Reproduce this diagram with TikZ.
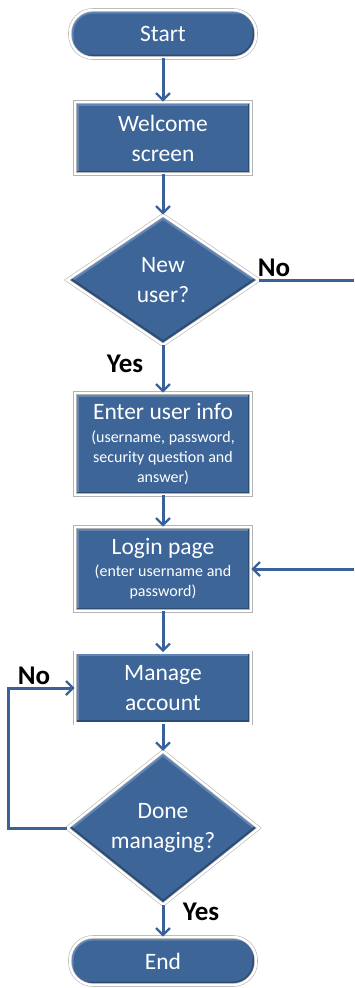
\documentclass[tikz,border=0pt]{standalone}
\usepackage{fontspec}
\setmainfont{Carlito}
\usetikzlibrary{shapes.geometric,arrows.meta}
\definecolor{boxblue}{RGB}{61,101,152}
\definecolor{bevellight}{RGB}{96,133,182}
\definecolor{beveldark}{RGB}{44,76,118}
\definecolor{linkblue}{RGB}{58,98,152}
\definecolor{rimgray}{RGB}{180,180,180}
\newcommand{\notefont}{\fontsize{16}{20}\selectfont}

\begin{document}
\begin{tikzpicture}[x=1pt,y=-1pt,
  base/.style={fill=boxblue, draw=rimgray, double=white, double distance=2.4pt,
    line width=0.6pt, text=white, align=center, inner sep=0pt,
    font=\fontsize{23.5}{30}\selectfont},
  % bevel along the edges of a box
  boxbevel/.style={path picture={
    \draw[bevellight, line width=7pt]
      (path picture bounding box.south west) -- (path picture bounding box.north west)
      -- (path picture bounding box.north east);
    \draw[beveldark, line width=7pt]
      (path picture bounding box.north east) -- (path picture bounding box.south east)
      -- (path picture bounding box.south west);
    \draw[boxblue!90!white, line width=3pt]
      (path picture bounding box.north west) -- (path picture bounding box.north east);
  }},
  % bevel along the edges of a diamond
  diamondbevel/.style={path picture={
    \draw[bevellight, line width=8pt]
      (path picture bounding box.west) -- (path picture bounding box.north)
      -- (path picture bounding box.east);
    \draw[beveldark, line width=8pt]
      (path picture bounding box.east) -- (path picture bounding box.south)
      -- (path picture bounding box.west);
  }},
  terminal/.style={base, boxbevel, rectangle, rounded corners=23pt, minimum width=186pt, minimum height=48pt},
  process/.style={base, boxbevel, rectangle, minimum width=176pt},
  decision/.style={base, diamondbevel, diamond, minimum width=192pt, minimum height=130pt},
  flow/.style={draw=linkblue, line width=3pt},
  arrowflow/.style={flow, -{Straight Barb[length=7pt,width=14pt,line width=2.4pt]}},
  answer/.style={font=\bfseries\fontsize{27}{27}\selectfont, text=black}
]
\useasboundingbox (0,0) rectangle (354,988);

% flowchart blocks
\node[terminal] (start) at (163,34) {Start};
\node[process, minimum height=72pt] (welcome) at (163,138) {Welcome\\screen};
\node[decision] (newuser) at (163,280) {New\\user?};
\node[process, minimum height=102pt, font=\fontsize{23.5}{20}\selectfont] (enter) at (163,444)
  {Enter user info\\[3pt]\notefont(username, password,\\\notefont security question and\\\notefont answer)};
\node[process, minimum height=84pt, font=\fontsize{23.5}{20}\selectfont] (login) at (163,569)
  {Login page\\[2pt]\notefont(enter username and\\\notefont password)};
\node[process, minimum height=71pt] (manage) at (163,688) {Manage\\account};
\node[decision] (done) at (163,828) {Done\\managing?};
\node[terminal] (end) at (163,961) {End};

% free ends and bend points
\coordinate (rightout) at (354,280);
\coordinate (rightin) at (354,569);
\coordinate (loopx) at (8,0);

% connectors
\draw[arrowflow] (start) -- (welcome);
\draw[arrowflow] (welcome) -- (newuser);
\draw[arrowflow] (newuser) -- (enter);
\draw[arrowflow] (enter) -- (login);
\draw[arrowflow] (login) -- (manage);
\draw[arrowflow] (manage) -- (done);
\draw[arrowflow] (done) -- (end);
\draw[flow] (newuser.east) -- (rightout);
\draw[arrowflow] (rightin) -- (login.east);
\draw[arrowflow] (done.west) -- (done.west -| loopx) |- (manage.west);

% branch labels
\node[answer] (nonew) at (274,268) {No};
\node[answer] (yesnew) at (125,364) {Yes};
\node[answer] (nodone) at (34,676) {No};
\node[answer] (yesdone) at (201,912) {Yes};
\end{tikzpicture}
\end{document}
